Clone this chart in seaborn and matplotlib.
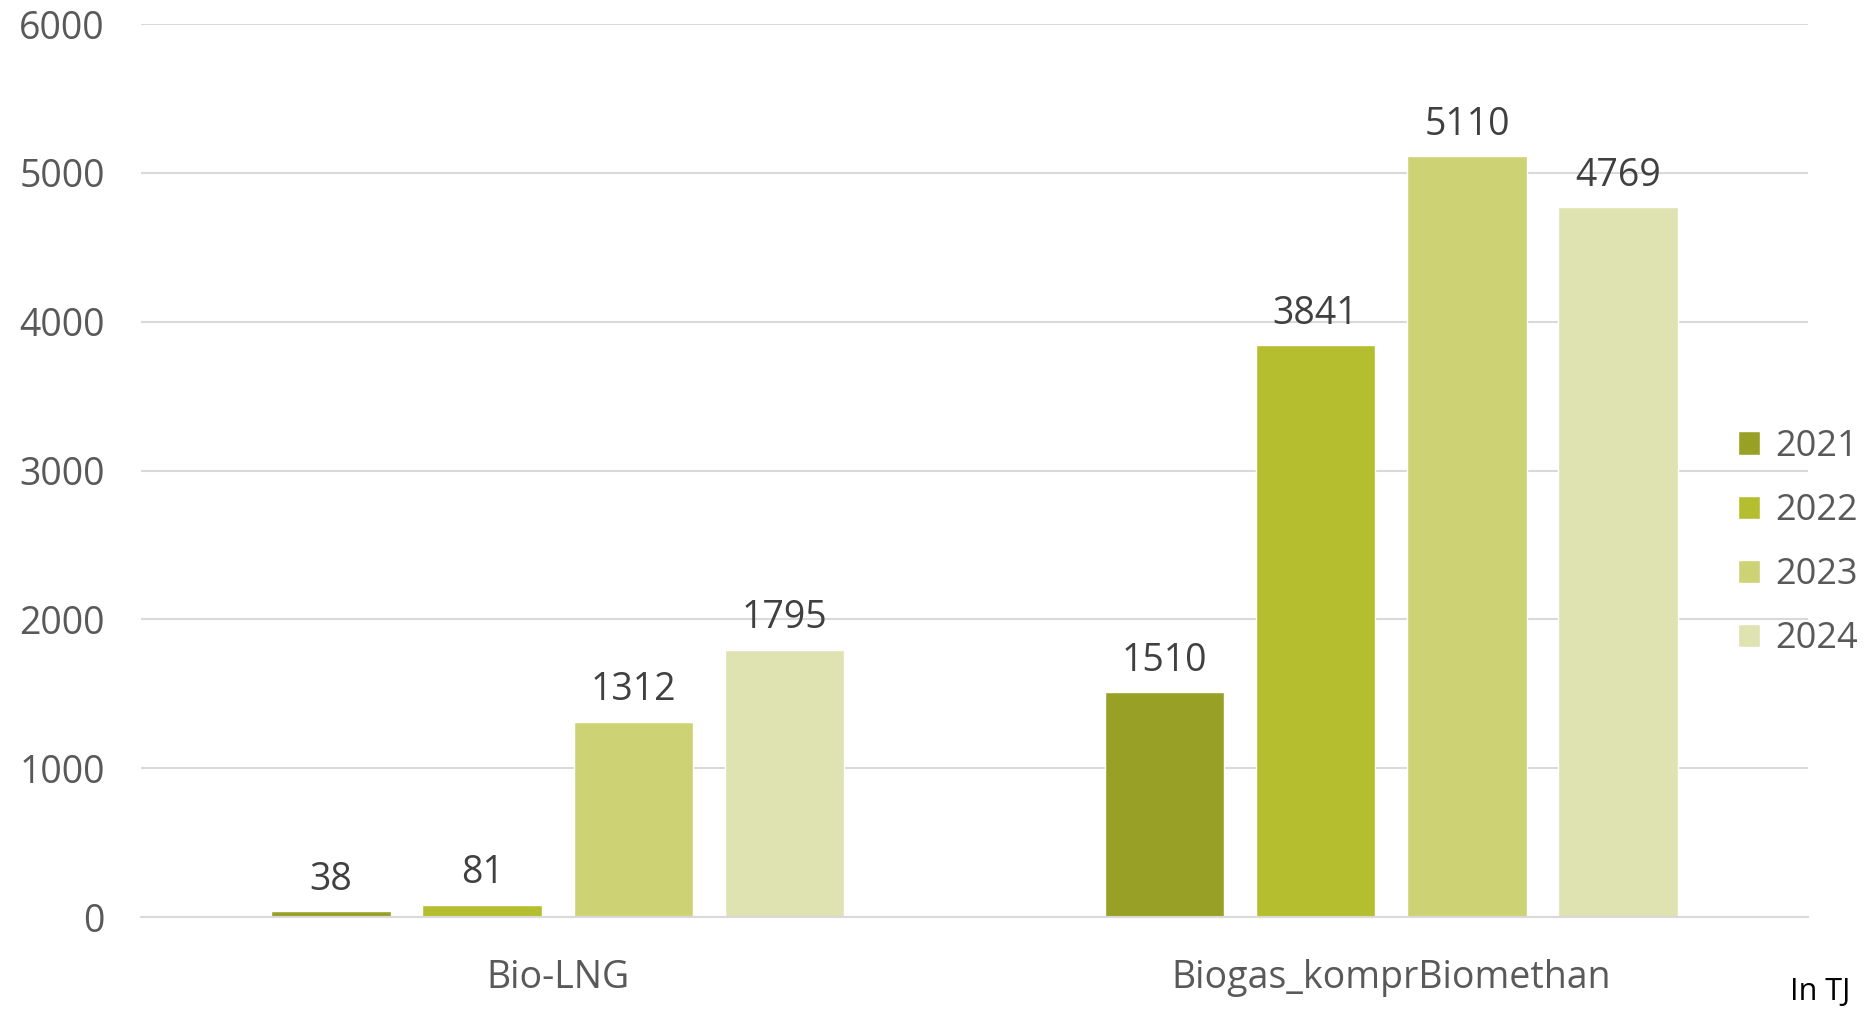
import matplotlib
matplotlib.use("Agg")
import matplotlib.pyplot as plt
import seaborn as sns
import pandas as pd

categories = ["Bio-LNG", "Biogas_komprBiomethan"]
years = ["2021", "2022", "2023", "2024"]
values_2021 = [38, 1510]
values_2022 = [81, 3841]
values_2023 = [1312, 5110]
values_2024 = [1795, 4769]
yticks = [0, 1000, 2000, 3000, 4000, 5000, 6000]
colors = ["#98A125", "#B5BE2E", "#CDD374", "#DEE3B1"]

rows = []
for y, vals in zip(years, [values_2021, values_2022, values_2023, values_2024]):
    for c, v in zip(categories, vals):
        rows.append({"cat": c, "year": y, "val": v})
df = pd.DataFrame(rows)

sns.set_theme(style="white")
plt.rcParams["font.family"] = ["Open Sans", "DejaVu Sans"]

fig = plt.figure(figsize=(18.68, 10.10), dpi=100)
ax = fig.add_axes([141/1868, 1 - 917/1010, (1808-141)/1868, (917-24)/1010])
sns.barplot(data=df, x="cat", y="val", hue="year", palette=colors, ax=ax,
            width=0.726, gap=0.21, saturation=1, legend=True)
ax.set_xlim(-0.5, 1.5)
ax.set_ylim(0, 6000)
ax.set_yticks(yticks)
ax.yaxis.grid(True, color="#D9D9D9", linewidth=1.5)
ax.set_axisbelow(True)
for s in ["left", "right", "top"]:
    ax.spines[s].set_visible(False)
ax.spines["bottom"].set_color("#D9D9D9")
ax.spines["bottom"].set_linewidth(1.5)
ax.tick_params(axis="both", length=0, labelsize=27, colors="#595959")
ax.tick_params(axis="y", pad=26)
ax.tick_params(axis="x", pad=30)
ax.set_xlabel("")
ax.set_ylabel("")
for cont in ax.containers:
    ax.bar_label(cont, labels=[f"{int(v)}" for v in cont.datavalues],
                 padding=9, fontsize=27, color="#404040")
leg = ax.legend(loc="center left", bbox_to_anchor=(1738/1868, 1 - 543/1010),
                bbox_transform=fig.transFigure, frameon=False,
                fontsize=26, labelcolor="#595959", handlelength=0.62, handleheight=0.62,
                handletextpad=0.4, labelspacing=0.78, borderaxespad=0, borderpad=0)
fig.text(1850/1868, 1 - 1007/1010, "In TJ", ha="right", va="bottom", fontsize=22, color="#000000")
fig.savefig("out.png", dpi=100)
